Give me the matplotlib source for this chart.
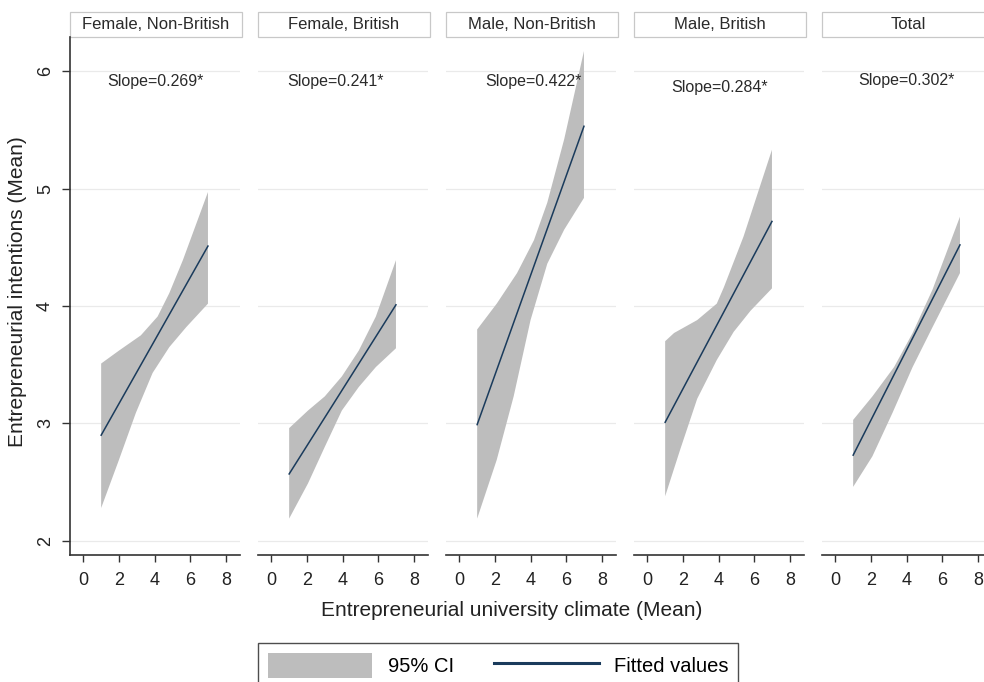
import matplotlib
matplotlib.use('Agg')
import matplotlib.pyplot as plt
from matplotlib.patches import Rectangle, Patch
from matplotlib.lines import Line2D

plt.rcParams['font.family'] = ['Liberation Sans', 'DejaVu Sans']

# ---------------- data ----------------
panels = ["Female, Non-British", "Female, British", "Male, Non-British", "Male, British", "Total"]
slope_labels = ["Slope=0.269*", "Slope=0.241*", "Slope=0.422*", "Slope=0.284*", "Slope=0.302*"]

fit_x = [1, 7]
fit_fnb = [2.90, 4.51]
fit_fb = [2.57, 4.01]
fit_mnb = [2.99, 5.53]
fit_mb = [3.01, 4.72]
fit_tot = [2.73, 4.52]

# 95% CI upper / lower boundaries
up_x_fnb = [1, 2.0, 3.23, 4.17, 4.83, 5.59, 7]
up_y_fnb = [3.51, 3.62, 3.75, 3.91, 4.11, 4.39, 4.97]
lo_x_fnb = [1, 2.0, 2.95, 3.89, 4.83, 5.78, 7]
lo_y_fnb = [2.28, 2.69, 3.09, 3.43, 3.65, 3.82, 4.02]

up_x_fb = [1, 2.06, 3.0, 3.96, 4.91, 5.87, 7]
up_y_fb = [2.96, 3.11, 3.23, 3.40, 3.62, 3.91, 4.39]
lo_x_fb = [1, 2.06, 3.0, 3.96, 4.91, 5.87, 7]
lo_y_fb = [2.19, 2.49, 2.80, 3.11, 3.31, 3.48, 3.64]

up_x_mnb = [1, 2.1, 3.24, 4.19, 4.94, 5.89, 7]
up_y_mnb = [3.80, 4.02, 4.28, 4.56, 4.88, 5.42, 6.17]
lo_x_mnb = [1, 2.1, 3.05, 4.0, 4.94, 5.89, 7]
lo_y_mnb = [2.19, 2.69, 3.23, 3.88, 4.36, 4.65, 4.92]

up_x_mb = [1, 1.5, 2.8, 3.9, 4.3, 5.4, 7]
up_y_mb = [3.70, 3.77, 3.88, 4.02, 4.16, 4.59, 5.33]
lo_x_mb = [1, 1.85, 2.8, 3.9, 4.85, 5.8, 7]
lo_y_mb = [2.38, 2.78, 3.21, 3.54, 3.78, 3.96, 4.15]

up_x_tot = [1, 2.08, 3.3, 4.34, 5.46, 7]
up_y_tot = [3.03, 3.23, 3.48, 3.77, 4.14, 4.76]
lo_x_tot = [1, 2.08, 3.21, 4.34, 5.46, 7]
lo_y_tot = [2.46, 2.72, 3.09, 3.48, 3.82, 4.28]

x_ticks = [0, 2, 4, 6, 8]
y_ticks = [2, 3, 4, 5, 6]

fits = [fit_fnb, fit_fb, fit_mnb, fit_mb, fit_tot]
uppers = [(up_x_fnb, up_y_fnb), (up_x_fb, up_y_fb), (up_x_mnb, up_y_mnb),
          (up_x_mb, up_y_mb), (up_x_tot, up_y_tot)]
lowers = [(lo_x_fnb, lo_y_fnb), (lo_x_fb, lo_y_fb), (lo_x_mnb, lo_y_mnb),
          (lo_x_mb, lo_y_mb), (lo_x_tot, lo_y_tot)]

# ---------------- style / layout ----------------
W, H = 984, 682
fig = plt.figure(figsize=(W / 100, H / 100), dpi=100)

ci_color = '#bdbdbd'
line_color = '#1a3b5c'
spine_color = '#333333'
grid_color = '#eaeaea'
text_color = '#2a2a2a'

panel_left = [70, 258, 446, 634, 822]
panel_w = 170
ax_bottom_px, ax_top_px = 555, 37
slope_pos = [(4.03, 5.91), (3.6, 5.91), (4.15, 5.91), (4.08, 5.86), (4.0, 5.92)]

axh = (ax_bottom_px - ax_top_px) / H
for i in range(5):
    ax = fig.add_axes([panel_left[i] / W, 1 - ax_bottom_px / H, panel_w / W, axh])
    ax.set_xlim(-0.75, 8.8)
    ax.set_ylim(1.88, 6.29)
    for y in y_ticks:
        ax.axhline(y, color=grid_color, lw=0.9, zorder=0)
    ux, uy = uppers[i]
    lx, ly = lowers[i]
    ax.fill(list(ux) + list(lx)[::-1], list(uy) + list(ly)[::-1],
            color=ci_color, lw=0, zorder=1)
    ax.plot(fit_x, fits[i], color=line_color, lw=1.1, zorder=2)
    ax.text(slope_pos[i][0], slope_pos[i][1], slope_labels[i], ha='center', va='center',
            fontsize=11.5, color=text_color)

    for s in ['top', 'right']:
        ax.spines[s].set_visible(False)
    ax.spines['bottom'].set_color(spine_color)
    ax.spines['bottom'].set_linewidth(1.2)
    ax.set_xticks(x_ticks)
    ax.tick_params(axis='x', direction='out', length=5, width=1, color=spine_color,
                   labelsize=13, labelcolor='#222222', pad=7)
    if i == 0:
        ax.spines['left'].set_color(spine_color)
        ax.spines['left'].set_linewidth(1.2)
        ax.set_yticks(y_ticks)
        ax.tick_params(axis='y', direction='out', length=5.5, width=1, color=spine_color,
                       labelsize=13, labelcolor='#222222', labelrotation=90, pad=6)
        for lab in ax.get_yticklabels():
            lab.set_va('center')
    else:
        ax.spines['left'].set_visible(False)
        ax.set_yticks([])

    # header strip
    hh = 25 / (ax_bottom_px - ax_top_px)
    ax.add_patch(Rectangle((0, 1.0), 172 / panel_w, hh, transform=ax.transAxes,
                           clip_on=False, fc='white', ec='#c8c8c8', lw=0.9))
    ax.text(86 / panel_w, 1.0 + hh / 2, panels[i], transform=ax.transAxes,
            ha='center', va='center', fontsize=12, color=text_color)

fig.text(18 / W, 1 - 292 / H, 'Entrepreneurial intentions (Mean)', rotation=90,
         ha='center', va='center', fontsize=15, color='#222222')
fig.text(512 / W, 1 - 610 / H, 'Entrepreneurial university climate (Mean)',
         ha='center', va='center', fontsize=15, color='#222222')

handles = [Patch(facecolor=ci_color, edgecolor='none'),
           Line2D([0], [0], color=line_color, lw=2.2)]
leg = fig.legend(handles, ['95% CI', 'Fitted values'], loc='upper center',
                 bbox_to_anchor=(498 / W, 1 - 633 / H), ncol=2, fontsize=14.5,
                 frameon=True, fancybox=False, edgecolor='#222222',
                 handlelength=5.2, handleheight=1.5, handletextpad=0.75,
                 columnspacing=2.0, borderpad=0.5)
leg.get_frame().set_linewidth(1.0)

fig.savefig('out.png', dpi=100)
